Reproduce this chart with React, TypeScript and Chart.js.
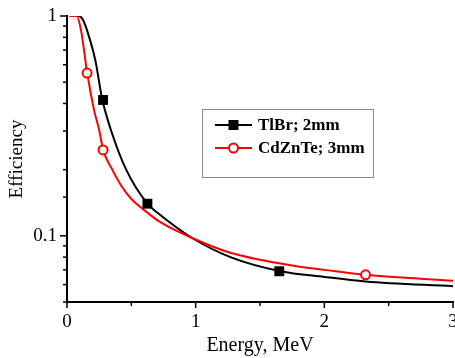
import React, { useEffect, useRef } from "react";
import { Chart, registerables } from "chart.js";

Chart.register(...registerables);

// ---- data ----
const tlbrCurveX = [0.02, 0.09, 0.125, 0.156, 0.22, 0.273, 0.344, 0.46, 0.625, 0.72, 0.97, 1.27, 1.66, 2.0, 2.32, 3.0];
const tlbrCurveY = [1.0, 1.0, 0.96, 0.86, 0.63, 0.42, 0.30, 0.20, 0.14, 0.125, 0.098, 0.080, 0.069, 0.065, 0.062, 0.059];
const tlbrMarkX = [0.28, 0.625, 1.65];
const tlbrMarkY = [0.415, 0.14, 0.069];

const czCurveX = [0.02, 0.075, 0.109, 0.156, 0.21, 0.25, 0.281, 0.352, 0.422, 0.5, 0.586, 0.719, 0.969, 1.27, 1.81, 2.0, 2.32, 3.0];
const czCurveY = [1.0, 1.0, 0.86, 0.555, 0.374, 0.303, 0.246, 0.2, 0.169, 0.147, 0.133, 0.116, 0.098, 0.0837, 0.0723, 0.070, 0.0665, 0.0624];
const czMarkX = [0.156, 0.28, 2.32];
const czMarkY = [0.55, 0.246, 0.0665];

const seriesNames = ["TlBr; 2mm", "CdZnTe; 3mm"];
const xTickLabels = ["0", "1", "2", "3"];
const yTickLabels = ["0.1", "1"];
const xTitle = "Energy, MeV";
const yTitle = "Efficiency";

const SERIF = "'Liberation Serif', 'Times New Roman', serif";
const BLACK = "#000000";
const RED = "#ff0000";

const zip = (xs: number[], ys: number[]) => xs.map((x, i) => ({ x, y: ys[i] }));
const isDecade = (v: number) => Math.abs(Math.log10(v) - Math.round(Math.log10(v))) < 1e-6;
const isInt = (v: number) => Math.abs(v - Math.round(v)) < 1e-6;

const ticksPlugin = {
  id: "manualTicks",
  afterDraw(chart: any) {
    const ctx = chart.ctx;
    const xs = chart.scales.x;
    const ys = chart.scales.y;
    ctx.save();
    ctx.strokeStyle = BLACK;
    ctx.lineWidth = 1.5;
    ys.ticks.forEach((t: any) => {
      const p = ys.getPixelForValue(t.value);
      const len = isDecade(t.value) ? 7 : 4;
      ctx.beginPath();
      ctx.moveTo(chart.chartArea.left, p);
      ctx.lineTo(chart.chartArea.left - len, p);
      ctx.stroke();
    });
    xs.ticks.forEach((t: any) => {
      const p = xs.getPixelForValue(t.value);
      const len = isInt(t.value) ? 6 : 4;
      ctx.beginPath();
      ctx.moveTo(p, chart.chartArea.bottom);
      ctx.lineTo(p, chart.chartArea.bottom + len);
      ctx.stroke();
    });
    ctx.restore();
  },
};

const legendPlugin = {
  id: "boxLegend",
  afterDraw(chart: any) {
    const ctx = chart.ctx;
    const bx = 202, by = 109, bw = 171, bh = 68;
    ctx.save();
    ctx.fillStyle = "#ffffff";
    ctx.fillRect(bx, by, bw, bh);
    ctx.strokeStyle = "#8a8a8a";
    ctx.lineWidth = 1;
    ctx.strokeRect(bx + 0.5, by + 0.5, bw, bh);
    const rows = [
      { y: 125, color: BLACK, name: seriesNames[0], square: true },
      { y: 148, color: RED, name: seriesNames[1], square: false },
    ];
    rows.forEach((r) => {
      ctx.strokeStyle = r.color;
      ctx.lineWidth = 2;
      ctx.beginPath();
      ctx.moveTo(215, r.y);
      ctx.lineTo(252, r.y);
      ctx.stroke();
      if (r.square) {
        ctx.fillStyle = BLACK;
        ctx.fillRect(233.5 - 5, r.y - 5, 10, 10);
      } else {
        ctx.fillStyle = "#ffffff";
        ctx.beginPath();
        ctx.arc(233.5, r.y, 4.5, 0, Math.PI * 2);
        ctx.fill();
        ctx.stroke();
      }
      ctx.fillStyle = BLACK;
      ctx.font = `bold 17px ${SERIF}`;
      ctx.textBaseline = "middle";
      ctx.textAlign = "left";
      ctx.fillText(r.name, 258, r.y + 1);
    });
    ctx.restore();
  },
};

export default function App() {
  const ref = useRef<HTMLCanvasElement | null>(null);

  useEffect(() => {
    if (!ref.current) return;
    const chart = new Chart(ref.current, {
      type: "scatter",
      data: {
        datasets: [
          {
            label: seriesNames[0] + " markers",
            data: zip(tlbrMarkX, tlbrMarkY),
            showLine: false,
            pointStyle: "rect",
            pointRadius: 7,
            pointBackgroundColor: BLACK,
            pointBorderColor: BLACK,
            pointBorderWidth: 0,
          },
          {
            label: seriesNames[1] + " markers",
            data: zip(czMarkX, czMarkY),
            showLine: false,
            pointStyle: "circle",
            pointRadius: 4.5,
            pointBackgroundColor: "#ffffff",
            pointBorderColor: RED,
            pointBorderWidth: 2,
          },
          {
            label: seriesNames[1],
            data: zip(czCurveX, czCurveY),
            showLine: true,
            borderColor: RED,
            borderWidth: 2,
            pointRadius: 0,
            cubicInterpolationMode: "monotone",
          },
          {
            label: seriesNames[0],
            data: zip(tlbrCurveX, tlbrCurveY),
            showLine: true,
            borderColor: BLACK,
            borderWidth: 2,
            pointRadius: 0,
            cubicInterpolationMode: "monotone",
          },
        ],
      },
      options: {
        animation: false,
        responsive: false,
        devicePixelRatio: 1,
        layout: { padding: { left: 0, right: 3, top: 16, bottom: 0 } },
        plugins: {
          legend: { display: false },
          tooltip: { enabled: false },
        },
        scales: {
          x: {
            type: "linear",
            min: 0,
            max: 3,
            afterBuildTicks: (scale: any) => {
              const t = [];
              for (let v = 0; v <= 3.0001; v += 0.5) t.push({ value: v });
              scale.ticks = t;
            },
            ticks: {
              autoSkip: false,
              maxRotation: 0,
              padding: 9,
              color: BLACK,
              font: { family: SERIF, size: 19 },
              callback: (v: any) => {
                const n = Number(v);
                return isInt(n) ? xTickLabels[Math.round(n)] : "";
              },
            },
            grid: { display: false, drawTicks: false, tickLength: 0 },
            border: { display: true, color: BLACK, width: 2 },
            title: {
              display: true,
              text: xTitle,
              color: BLACK,
              font: { family: SERIF, size: 20 },
              padding: { top: 0, bottom: 0 },
            },
            afterFit: (scale: any) => {
              scale.height = 56;
              scale.paddingLeft = 0;
              scale.paddingRight = 0;
              if (scale._margins) {
                scale._margins.left = 0;
                scale._margins.right = 0;
              }
            },
          },
          y: {
            type: "logarithmic",
            min: 0.05,
            max: 1,
            ticks: {
              autoSkip: false,
              padding: 10,
              color: BLACK,
              font: { family: SERIF, size: 19 },
              callback: (v: any) => {
                const n = Number(v);
                if (!isDecade(n)) return "";
                return Math.round(Math.log10(n)) === 0 ? yTickLabels[1] : yTickLabels[0];
              },
            },
            grid: { display: false, drawTicks: false, tickLength: 0 },
            border: { display: true, color: BLACK, width: 2 },
            title: {
              display: true,
              text: yTitle,
              color: BLACK,
              font: { family: SERIF, size: 19 },
              padding: { top: 6, bottom: 0 },
            },
            afterFit: (scale: any) => {
              scale.width = 67;
              scale.paddingTop = 0;
              scale.paddingBottom = 0;
              if (scale._margins) {
                scale._margins.top = 0;
                scale._margins.bottom = 0;
              }
            },
          },
        },
      },
      plugins: [ticksPlugin, legendPlugin],
    } as any);
    return () => chart.destroy();
  }, []);

  return (
    <div style={{ position: "absolute", left: 0, top: 0, width: 455, height: 358, background: "#fff", overflow: "hidden" }}>
      <canvas ref={ref} width={460} height={358} style={{ display: "block" }} />
    </div>
  );
}
